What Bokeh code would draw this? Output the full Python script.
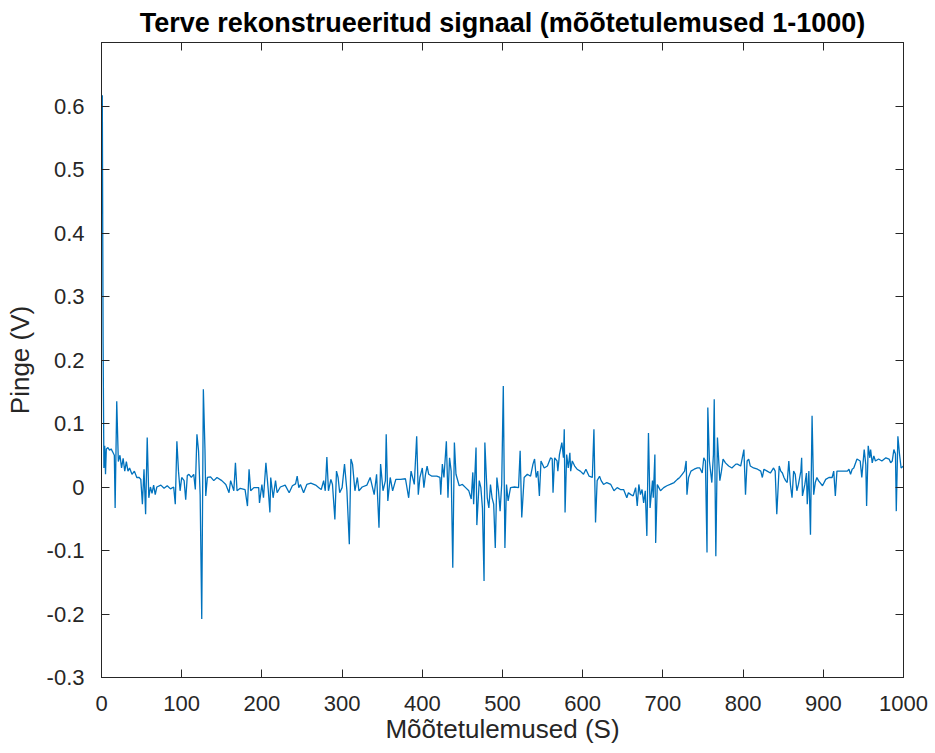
from bokeh.plotting import figure
from bokeh.models import Range1d, LinearAxis, FixedTicker, CustomJSTickFormatter
from bokeh.embed import file_html
from bokeh.resources import INLINE

# Reconstructed signal, measurements 1-1000 (sample index, voltage in V)
sample_idx = [
    1, 2, 3, 4, 5, 6, 8, 10, 12, 14, 16, 17, 19, 21, 23, 25, 27, 29, 31, 33,
    35, 38, 41, 44, 47, 49, 51, 53, 55, 57, 59, 61, 63, 65, 67, 69, 74, 78, 82, 86,
    90, 92, 94, 96, 98, 100, 103, 105, 107, 109, 112, 115, 117, 119, 121, 123, 125, 127, 129, 130,
    132, 136, 140, 144, 150, 155, 159, 161, 165, 167, 169, 173, 179, 182, 184, 186, 190, 196, 197, 200,
    202, 205, 208, 210, 211, 214, 217, 219, 223, 229, 234, 238, 242, 244, 246, 248, 252, 256, 261, 267,
    271, 274, 277, 279, 281, 283, 286, 288, 291, 293, 295, 297, 300, 303, 306, 309, 311, 313, 316, 319,
    321, 325, 331, 335, 340, 343, 346, 348, 351, 354, 355, 357, 360, 363, 367, 373, 379, 383, 386, 390,
    393, 395, 397, 400, 402, 404, 406, 408, 412, 418, 422, 423, 425, 427, 430, 432, 434, 436, 438, 440,
    442, 446, 450, 454, 458, 461, 463, 464, 467, 468, 471, 473, 475, 477, 478, 481, 483, 485, 487, 489,
    491, 493, 495, 497, 499, 501, 503, 505, 507, 510, 515, 520, 522, 524, 527, 531, 535, 538, 540, 542,
    544, 546, 548, 552, 556, 560, 562, 563, 565, 568, 569, 571, 574, 576, 577, 578, 580, 582, 584, 585,
    587, 590, 593, 597, 601, 604, 608, 612, 614, 616, 618, 621, 623, 626, 630, 635, 639, 643, 647, 651,
    655, 657, 660, 663, 666, 668, 670, 672, 674, 676, 678, 680, 682, 684, 687, 688, 690, 691, 693, 695,
    697, 701, 705, 709, 714, 718, 721, 724, 727, 729, 730, 732, 735, 739, 743, 746, 749, 751, 753, 755,
    756, 758, 761, 763, 764, 766, 768, 771, 773, 775, 778, 782, 786, 791, 793, 797, 801, 803, 805, 807,
    809, 813, 818, 822, 824, 826, 830, 834, 838, 840, 842, 845, 847, 849, 851, 853, 855, 857, 859, 861,
    863, 865, 867, 869, 872, 873, 874, 877, 879, 880, 882, 884, 886, 888, 890, 892, 894, 899, 903, 907,
    911, 913, 915, 917, 921, 926, 930, 932, 934, 936, 938, 942, 946, 948, 951, 953, 954, 956, 958, 959,
    961, 963, 965, 969, 973, 978, 982, 984, 986, 988, 990, 991, 993, 995, 997, 1000,
]
voltage = [
    0.617, 0.225, 0.030, 0.065, 0.020, 0.060, 0.062, 0.058, 0.060, 0.055, 0.050, -0.033, 0.135, 0.040, 0.050, 0.030, 0.045, 0.025, 0.040, 0.025,
    0.030, 0.020, 0.025, 0.015, 0.015, 0.012, -0.027, 0.028, -0.043, 0.078, -0.017, 0.000, -0.010, 0.003, -0.012, 0.000, 0.003, -0.002, 0.002, -0.003,
    0.000, -0.027, 0.072, 0.025, -0.006, 0.015, 0.010, -0.020, 0.018, 0.020, 0.015, 0.020, -0.004, 0.083, 0.057, -0.012, -0.208, 0.154, 0.060, -0.014,
    0.015, 0.016, 0.010, 0.015, 0.010, 0.004, -0.009, 0.010, -0.006, 0.038, -0.006, -0.002, -0.004, -0.030, 0.028, -0.006, -0.001, -0.001, -0.025, 0.004,
    -0.017, 0.038, -0.006, -0.040, 0.015, -0.017, 0.010, -0.009, 0.000, 0.003, -0.009, 0.002, 0.005, 0.017, -0.001, 0.004, -0.009, 0.004, 0.006, 0.003,
    -0.001, -0.004, 0.010, -0.006, 0.047, -0.006, 0.012, 0.004, -0.051, 0.025, 0.015, -0.009, -0.001, 0.036, -0.006, -0.090, 0.044, 0.036, -0.006, 0.015,
    -0.006, 0.000, 0.003, 0.015, -0.012, 0.020, -0.064, 0.036, -0.006, 0.010, 0.083, -0.022, 0.015, -0.006, 0.012, 0.012, 0.013, -0.017, 0.025, 0.004,
    0.080, -0.012, 0.015, 0.030, -0.001, 0.020, 0.033, 0.020, 0.017, 0.017, 0.015, -0.012, 0.036, 0.015, 0.072, -0.017, 0.046, 0.025, -0.127, 0.070,
    0.020, 0.002, 0.004, -0.001, -0.006, -0.019, 0.023, -0.027, 0.062, -0.060, 0.010, -0.001, -0.033, -0.148, 0.070, -0.017, -0.033, 0.004, -0.017, -0.027,
    -0.096, 0.015, -0.006, -0.038, 0.004, 0.159, -0.096, 0.004, -0.022, -0.001, 0.000, -0.001, 0.057, -0.048, 0.015, 0.020, 0.017, 0.036, 0.044, 0.015,
    0.025, -0.014, 0.041, 0.030, 0.033, 0.046, 0.044, -0.009, 0.046, 0.041, 0.025, 0.051, 0.070, 0.046, 0.091, -0.040, 0.051, 0.030, 0.054, 0.025,
    0.041, 0.033, 0.028, 0.025, 0.020, 0.028, 0.017, 0.015, 0.091, -0.056, 0.010, 0.017, 0.010, 0.004, 0.007, 0.004, -0.006, -0.001, -0.004, -0.004,
    -0.017, -0.009, -0.012, -0.014, -0.001, -0.030, 0.004, -0.012, -0.004, -0.025, -0.006, -0.077, 0.085, -0.033, 0.010, -0.017, 0.051, -0.088, 0.004, -0.001,
    -0.006, -0.001, 0.002, 0.004, 0.007, 0.012, 0.015, 0.020, 0.025, 0.041, -0.012, 0.015, 0.025, 0.028, 0.030, 0.030, 0.022, 0.046, 0.041, -0.103,
    0.125, 0.041, 0.007, 0.051, 0.138, -0.109, 0.078, 0.010, 0.025, 0.044, 0.038, 0.033, 0.030, 0.036, 0.036, 0.033, 0.059, -0.012, 0.041, 0.044,
    0.033, 0.030, 0.028, 0.025, 0.015, 0.028, 0.025, 0.022, 0.030, 0.025, -0.043, 0.033, 0.025, 0.022, 0.015, 0.010, 0.007, 0.041, 0.004, -0.017,
    0.025, 0.020, -0.006, 0.004, 0.025, 0.046, -0.014, 0.004, 0.022, -0.027, 0.025, -0.075, 0.112, -0.012, 0.007, 0.015, 0.010, 0.002, 0.012, 0.015,
    0.015, 0.025, -0.014, 0.025, 0.025, 0.025, 0.025, 0.028, 0.020, 0.028, 0.030, 0.044, 0.041, 0.015, 0.059, 0.035, -0.030, 0.065, 0.046, 0.059,
    0.038, 0.049, 0.041, 0.044, 0.041, 0.046, 0.044, 0.038, 0.041, 0.059, 0.052, -0.038, 0.080, 0.052, 0.030, 0.033,
]

x_ticks = [0, 100, 200, 300, 400, 500, 600, 700, 800, 900, 1000]
y_ticks = [-0.3, -0.2, -0.1, 0.0, 0.1, 0.2, 0.3, 0.4, 0.5, 0.6]

TITLE = "Terve rekonstrueeritud signaal (mõõtetulemused 1-1000)"
X_LABEL = "Mõõtetulemused (S)"
Y_LABEL = "Pinge (V)"

AX_COLOR = "#262626"
FONT = "Liberation Sans"

p = figure(
    width=935, height=753,
    x_range=Range1d(0, 1000), y_range=Range1d(-0.3, 0.7),
    output_backend="svg", toolbar_location=None,
    min_border_left=101, min_border_right=32,
    min_border_top=42, min_border_bottom=76,
    background_fill_color="white", border_fill_color="white",
)

p.line(sample_idx, voltage, line_color="#0072BD", line_width=1.3)

p.grid.visible = False
p.outline_line_color = AX_COLOR
p.outline_line_width = 1

y_fmt = CustomJSTickFormatter(code="return Math.abs(tick) < 1e-9 ? '0' : tick.toFixed(1);")
blank_fmt = CustomJSTickFormatter(code="return '';")


def style_axis(ax, ticks, label_size="22px"):
    ax.ticker = FixedTicker(ticks=ticks)
    ax.minor_tick_line_color = None
    ax.major_tick_in = 8
    ax.major_tick_out = 0
    ax.major_tick_line_color = AX_COLOR
    ax.axis_line_color = AX_COLOR
    ax.major_label_text_font = FONT
    ax.major_label_text_color = AX_COLOR
    ax.major_label_text_font_size = label_size
    ax.axis_label_text_font = FONT
    ax.axis_label_text_color = AX_COLOR
    ax.axis_label_text_font_size = "26px"
    ax.axis_label_text_font_style = "normal"


xa = p.xaxis[0]
style_axis(xa, x_ticks)
xa.axis_label = X_LABEL
xa.major_label_standoff = 18
xa.axis_label_standoff = 0

ya = p.yaxis[0]
style_axis(ya, y_ticks)
ya.formatter = y_fmt
ya.axis_label = Y_LABEL
ya.major_label_standoff = 17
ya.axis_label_standoff = 9

# box-style ticks along the top and right edges, without labels
top_ax = LinearAxis(formatter=blank_fmt)
style_axis(top_ax, x_ticks, "1px")
top_ax.major_label_standoff = 0
p.add_layout(top_ax, "above")

right_ax = LinearAxis(formatter=blank_fmt)
style_axis(right_ax, y_ticks, "1px")
right_ax.major_label_standoff = 0
p.add_layout(right_ax, "right")

p.title.text = TITLE
p.title.align = "center"
p.title.text_font = FONT
p.title.text_font_size = "27px"
p.title.text_font_style = "bold"
p.title.text_color = "black"
p.title.offset = 0
p.title.standoff = 9

open("out.html", "w").write(file_html(p, INLINE))
